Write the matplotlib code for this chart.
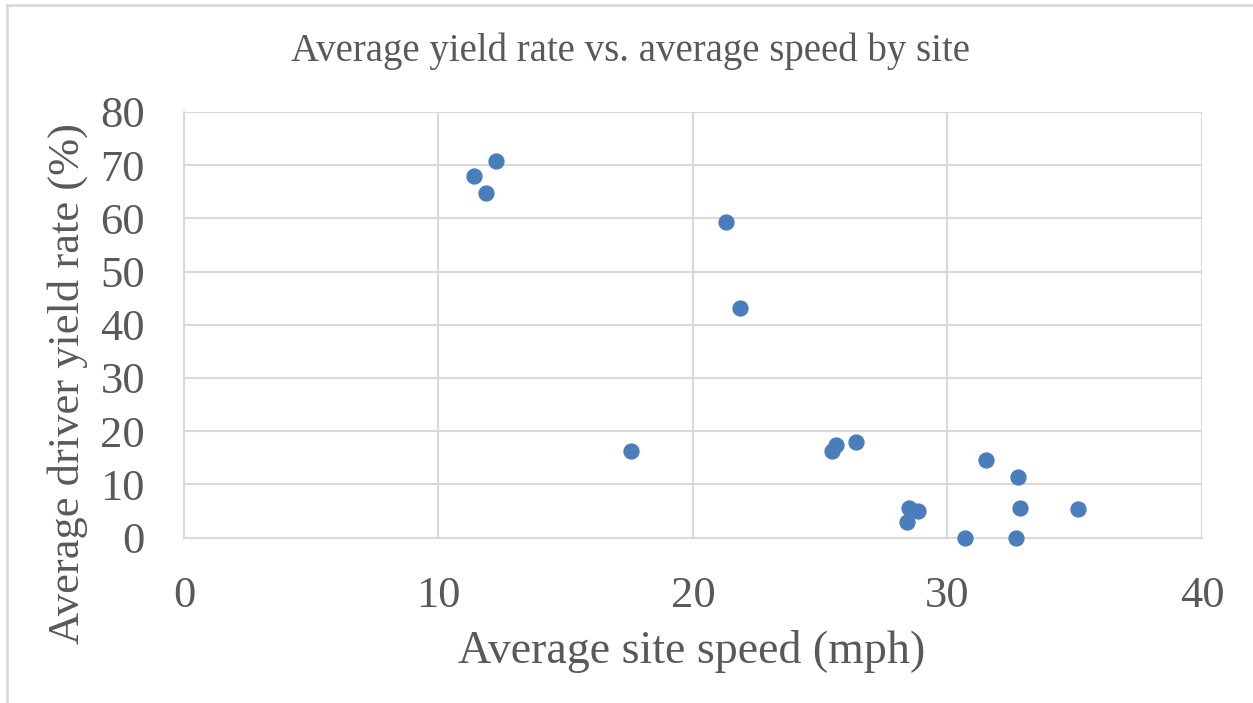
import matplotlib.pyplot as plt
from matplotlib.lines import Line2D

# average site speed (mph) and average driver yield rate (%) per site
speed = [12.26, 11.41, 11.88, 21.28, 21.86, 17.55, 25.47, 25.61, 26.39,
         31.50, 32.78, 28.49, 28.83, 28.40, 30.70, 32.86, 32.70, 35.13]
yield_rate = [70.7, 68.0, 64.8, 59.4, 43.1, 16.2, 16.2, 17.4, 18.0,
              14.6, 11.4, 5.6, 4.9, 2.9, 0.0, 5.5, 0.0, 5.4]

x_ticks = [0, 10, 20, 30, 40]
y_ticks = [0, 10, 20, 30, 40, 50, 60, 70, 80]

text_color = '#595959'
grid_color = '#d9d9d9'
plt.rcParams['font.family'] = ['Liberation Serif', 'DejaVu Serif']

fig = plt.figure(figsize=(12.53, 7.03), dpi=100)
ax = fig.add_axes([0.1468, 0.2354, 0.8125, 0.6053])

ax.scatter(speed, yield_rate, s=115, color='#4a7ebb', zorder=3, clip_on=False)

ax.set_xlim(0, 40)
ax.set_ylim(0, 80)
ax.set_xticks(x_ticks)
ax.set_yticks(y_ticks)
ax.grid(True, color=grid_color, linewidth=1.5)
ax.set_axisbelow(True)
for side in ['top', 'right']:
    ax.spines[side].set_visible(False)
ax.spines['left'].set_color(grid_color)
ax.spines['bottom'].set_color(grid_color)
ax.spines['left'].set_linewidth(1.5)
ax.spines['bottom'].set_linewidth(1.5)
ax.tick_params(length=0, labelsize=32, colors=text_color)
ax.tick_params(axis='x', pad=28)
ax.tick_params(axis='y', pad=28)

fig.text(0.503, 0.927, 'Average yield rate vs. average speed by site',
         ha='center', va='center', fontsize=28, color=text_color)
fig.text(0.552, 0.073, 'Average site speed (mph)',
         ha='center', va='center', fontsize=33, color=text_color)
fig.text(0.054, 0.455, 'Average driver yield rate (%)', rotation=90,
         ha='center', va='center', fontsize=32, color=text_color)

# light frame on the left and top edges
fig.add_artist(Line2D([0.0056, 0.0056], [0.0, 0.993], transform=fig.transFigure,
                      color=grid_color, linewidth=2))
fig.add_artist(Line2D([0.0056, 1.0], [0.993, 0.993], transform=fig.transFigure,
                      color=grid_color, linewidth=2))

fig.savefig('out.png', dpi=100)
